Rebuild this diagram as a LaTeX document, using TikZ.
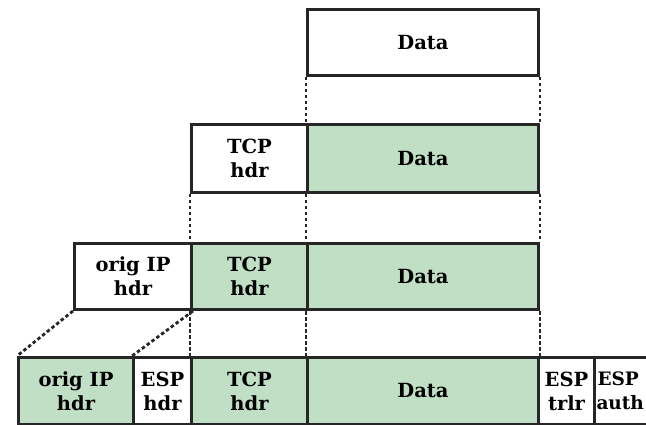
\documentclass[tikz,border=0pt]{standalone}
\usepackage{fontspec}
\setmainfont{DejaVu Serif}
\definecolor{pktgreen}{RGB}{192,223,196}
\begin{document}
\begin{tikzpicture}[x=1pt,y=-1pt,
  box/.style={draw=black!85, line width=3pt, anchor=north west, inner sep=0pt,
    align=center, font=\fontsize{19.5}{24}\selectfont\bfseries},
  gbox/.style={box, fill=pktgreen},
  wbox/.style={box, fill=white},
  conn/.style={draw=black!85, line width=2.8pt, dash pattern=on 3.5pt off 2.5pt}]
\useasboundingbox (0,0) rectangle (646,425);
\clip (0,0) rectangle (646,425);
% row 1
\node[wbox, minimum width=231, minimum height=66] (d1) at (306,8) {Data};
% row 2
\node[wbox, minimum width=116, minimum height=68] (t2) at (190,123) {TCP\\hdr};
\node[gbox, minimum width=231, minimum height=68] (d2) at (306,123) {Data};
% row 3
\node[wbox, minimum width=117, minimum height=66] (ip3) at (73,242) {orig IP\\hdr};
\node[gbox, minimum width=116, minimum height=66] (t3) at (190,242) {TCP\\hdr};
\node[gbox, minimum width=231, minimum height=66] (d3) at (306,242) {Data};
% row 4
\node[gbox, minimum width=115, minimum height=67] (ip4) at (17,356) {orig IP\\hdr};
\node[wbox, minimum width=58, minimum height=67] (esph) at (132,356) {ESP\\hdr};
\node[gbox, minimum width=116, minimum height=67] (t4) at (190,356) {TCP\\hdr};
\node[gbox, minimum width=231, minimum height=67] (d4) at (306,356) {Data};
\node[wbox, minimum width=56, minimum height=67] (trlr) at (537,356) {ESP\\trlr};
\node[wbox, minimum width=70, minimum height=67, text width=66, align=left,
  font=\fontsize{18.5}{24}\selectfont\bfseries] (auth) at (593,356) {\hspace*{1pt}ESP\\auth};
% connectors row1-row2
\draw[conn] (d1.south west) -- (d2.north west);
\draw[conn] (d1.south east) -- (d2.north east);
% row2-row3
\draw[conn] (t2.south west) -- (t3.north west);
\draw[conn] (d2.south west) -- (d3.north west);
\draw[conn] (d2.south east) -- (d3.north east);
% row3-row4
\draw[conn] (ip3.south west) -- (ip4.north west);
\draw[conn] (ip3.south east) -- (esph.north west);
\draw[conn] (t3.south west) -- (t4.north west);
\draw[conn] (d3.south west) -- (d4.north west);
\draw[conn] (d3.south east) -- (d4.north east);
\end{tikzpicture}
\end{document}
